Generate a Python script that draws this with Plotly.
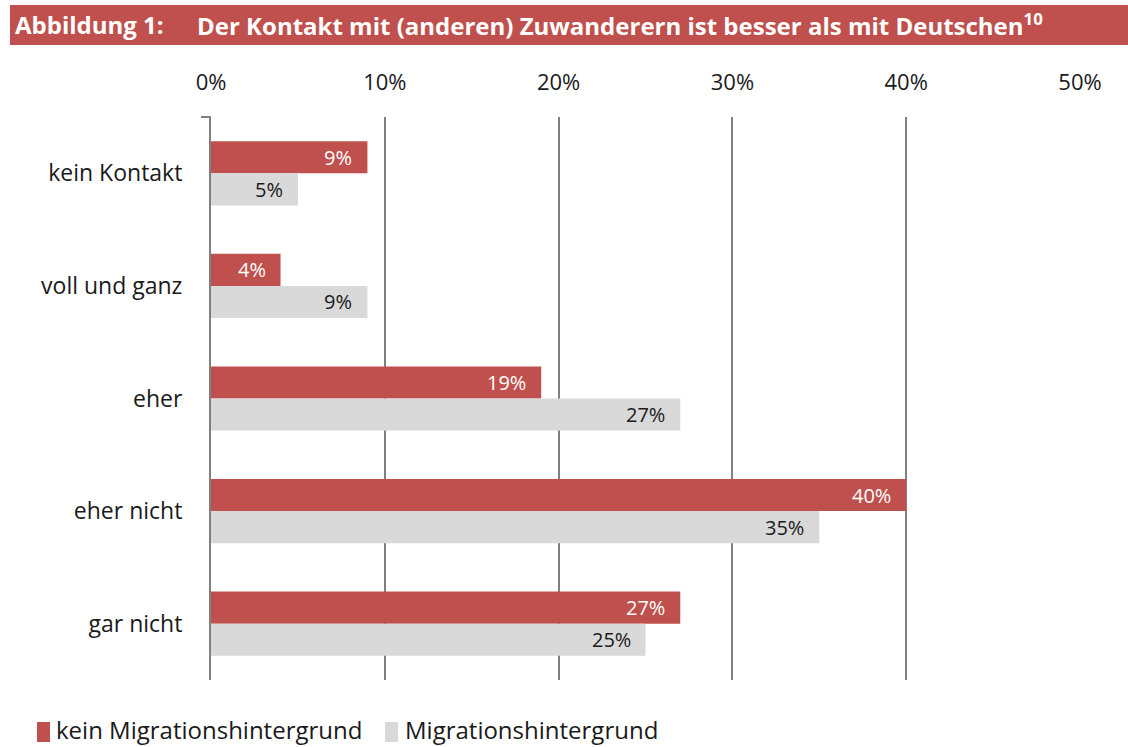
import plotly.graph_objects as go

categories = ["kein Kontakt", "voll und ganz", "eher", "eher nicht", "gar nicht"]
kein_migration = [9, 4, 19, 40, 27]
migration = [5, 9, 27, 35, 25]
series_names = ["kein Migrationshintergrund", "Migrationshintergrund"]
tick_values = [0, 10, 20, 30, 40, 50]
tick_labels = ["0%", "10%", "20%", "30%", "40%", "50%"]

W, H = 1128, 747
RED = "#C0504D"
GRAY = "#D9D9D9"
FONT = "Open Sans"
TXT = "#1a1a1a"

def px(x):
    return x / W

def py(y):
    return 1 - y / H

fig = go.Figure()
fig.add_trace(go.Bar(
    y=categories, x=kein_migration, orientation="h", name=series_names[0],
    marker=dict(color=RED, line=dict(width=0)), showlegend=False,
))
fig.add_trace(go.Bar(
    y=categories, x=migration, orientation="h", name=series_names[1],
    marker=dict(color=GRAY, line=dict(width=0)), showlegend=False,
))

annotations = []
# value labels, placed through the data axes
for cat, v in zip(categories, kein_migration):
    annotations.append(dict(x=v, y=cat, xref="x", yref="y", text=f"{v}%", showarrow=False,
                            xanchor="right", yanchor="middle", xshift=-13, yshift=16,
                            font=dict(family=FONT, size=20, color="white")))
for cat, v in zip(categories, migration):
    annotations.append(dict(x=v, y=cat, xref="x", yref="y", text=f"{v}%", showarrow=False,
                            xanchor="right", yanchor="middle", xshift=-13, yshift=-16,
                            font=dict(family=FONT, size=20, color=TXT)))

shapes = [
    dict(type="rect", xref="paper", yref="paper", x0=px(10), x1=1, y0=py(45), y1=py(5),
         fillcolor=RED, line=dict(width=0), layer="below"),
    dict(type="line", xref="paper", yref="paper", x0=px(201), x1=px(211), y0=py(117), y1=py(117),
         line=dict(color="#808080", width=2)),
    # legend swatches
    dict(type="rect", xref="paper", yref="paper", x0=px(37), x1=px(50), y0=py(742), y1=py(722),
         fillcolor=RED, line=dict(width=0)),
    dict(type="rect", xref="paper", yref="paper", x0=px(385), x1=px(398), y0=py(742), y1=py(722),
         fillcolor=GRAY, line=dict(width=0)),
]

annotations += [
    dict(text="<b>Abbildung 1:</b>", xref="paper", yref="paper", x=px(13), y=py(25),
         xanchor="left", yanchor="middle", showarrow=False,
         font=dict(family=FONT, size=24, color="white")),
    dict(text="<b>Der Kontakt mit (anderen) Zuwanderern ist besser als mit Deutschen<sup>10</sup></b>",
         xref="paper", yref="paper", x=px(195), y=py(25),
         xanchor="left", yanchor="middle", showarrow=False,
         font=dict(family=FONT, size=24, color="white")),
    dict(text=series_names[0], xref="paper", yref="paper", x=px(54), y=py(729),
         xanchor="left", yanchor="middle", showarrow=False,
         font=dict(family=FONT, size=24, color=TXT)),
    dict(text=series_names[1], xref="paper", yref="paper", x=px(403), y=py(729),
         xanchor="left", yanchor="middle", showarrow=False,
         font=dict(family=FONT, size=24, color=TXT)),
]

fig.update_layout(
    width=W, height=H,
    margin=dict(l=0, r=0, t=0, b=0, autoexpand=False),
    paper_bgcolor="white", plot_bgcolor="white",
    barmode="group", bargap=0.43, bargroupgap=0,
    font=dict(family=FONT, size=20, color=TXT),
    showlegend=False,
    xaxis=dict(domain=[px(211), px(1080)], range=[0, 50], side="top",
               tickvals=tick_values, ticktext=tick_labels, automargin=False,
               showgrid=True, gridcolor="#808080", gridwidth=1.5,
               zeroline=False, showline=False, ticks="", ticklabelstandoff=22,
               tickfont=dict(size=22, color=TXT), fixedrange=True),
    yaxis=dict(domain=[py(680), py(117)], autorange="reversed", automargin=False,
               showline=True, linecolor="#808080", linewidth=2,
               showgrid=False, ticks="", ticklabelstandoff=22,
               tickfont=dict(size=23, color=TXT), fixedrange=True),
    shapes=shapes, annotations=annotations,
)

fig.write_html(
    "out.html",
    config={"displayModeBar": False},
    post_script="document.body.style.margin='0';document.body.style.overflow='hidden';",
)
